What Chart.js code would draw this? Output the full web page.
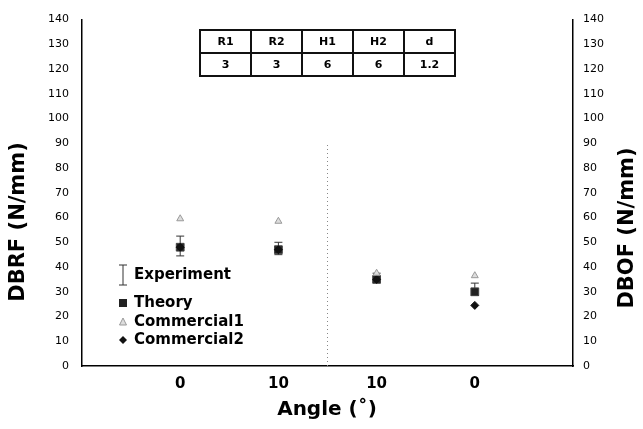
<!DOCTYPE html>
<html>
<head>
<meta charset="utf-8">
<script src="https://cdn.jsdelivr.net/npm/chart.js@4/dist/chart.umd.min.js"></script>
<style>
  body { margin: 0; background: #fff; }
  #wrap { position: relative; width: 643px; height: 429px; }
  #params {
    position: absolute; left: 199px; top: 29px;
    border-collapse: collapse;
    font-family: "DejaVu Sans", Verdana, sans-serif;
    font-weight: bold; font-size: 11px; color: #000;
  }
  #params td {
    border: 2px solid #111; width: 49px; height: 21px;
    text-align: center; padding: 0;
  }
</style>
</head>
<body>
<div id="wrap">
  <canvas id="chart" width="643" height="429"></canvas>
  <table id="params">
    <tr><td>R1</td><td>R2</td><td>H1</td><td>H2</td><td>d</td></tr>
    <tr><td>3</td><td>3</td><td>6</td><td>6</td><td>1.2</td></tr>
  </table>
</div>
<script>
// x-axis categories (angle in degrees)
const angleLabels = ['0', '10', '10', '0'];

// measured / predicted values (N/mm)
const experiment = [48.5, 47.5, 36, 31];
const experimentErr = [4, 2.5, 1.5, 2.5];
const theory = [48, 47, 35, 30];
const commercial1 = [59.5, 58.5, 37.5, 36.5];
const commercial2 = [48, 47, 35, 24.5];

// dotted separator between DBRF and DBOF halves
const dividerX = 2.5;
const dividerTop = 90;

const toPoints = (vals) => vals.map((v, i) => ({ x: i + 1, y: v }));
const FONT = '"DejaVu Sans", Verdana, sans-serif';

// error bars for the experiment series
const errorBars = {
    id: 'errorBars',
    beforeDatasetsDraw(chart) {
        const { ctx, scales: { x, y } } = chart;
        ctx.save();
        ctx.strokeStyle = '#333';
        ctx.lineWidth = 1;
        experiment.forEach((v, i) => {
            const px = x.getPixelForValue(i + 1);
            const top = y.getPixelForValue(v + experimentErr[i]);
            const bot = y.getPixelForValue(v - experimentErr[i]);
            ctx.beginPath();
            ctx.moveTo(px, top); ctx.lineTo(px, bot);
            ctx.moveTo(px - 4, top); ctx.lineTo(px + 4, top);
            ctx.moveTo(px - 4, bot); ctx.lineTo(px + 4, bot);
            ctx.stroke();
        });
        ctx.restore();
    }
};

// axis titles + legend drawn inside the plot
const extras = {
    id: 'extras',
    afterDraw(chart) {
        const ctx = chart.ctx;
        ctx.save();
        ctx.fillStyle = '#000';
        ctx.font = 'bold 21px ' + FONT;
        ctx.textAlign = 'center';
        ctx.textBaseline = 'middle';

        ctx.save();
        ctx.translate(19, 222); ctx.rotate(-Math.PI / 2);
        ctx.fillText('DBRF (N/mm)', 0, 0);
        ctx.restore();

        ctx.save();
        ctx.translate(628, 228); ctx.rotate(-Math.PI / 2);
        ctx.fillText('DBOF (N/mm)', 0, 0);
        ctx.restore();

        ctx.font = 'bold 20px ' + FONT;
        ctx.fillText('Angle (\u02da)', 327, 410);

        // legend
        const lx = 123, tx = 134;
        ctx.font = 'bold 15px ' + FONT;
        ctx.textAlign = 'left';
        ctx.fillText('Experiment', tx, 275);
        ctx.fillText('Theory', tx, 303);
        ctx.fillText('Commercial1', tx, 322);
        ctx.fillText('Commercial2', tx, 340);

        ctx.strokeStyle = '#333'; ctx.lineWidth = 1;
        ctx.beginPath();
        ctx.moveTo(lx, 265); ctx.lineTo(lx, 285);
        ctx.moveTo(lx - 4, 265); ctx.lineTo(lx + 4, 265);
        ctx.moveTo(lx - 4, 285); ctx.lineTo(lx + 4, 285);
        ctx.stroke();

        ctx.fillStyle = '#222';
        ctx.fillRect(lx - 4, 299, 8, 8);

        ctx.fillStyle = '#ddd'; ctx.strokeStyle = '#999';
        ctx.beginPath();
        ctx.moveTo(lx, 318); ctx.lineTo(lx + 3.5, 325); ctx.lineTo(lx - 3.5, 325);
        ctx.closePath(); ctx.fill(); ctx.stroke();

        ctx.fillStyle = '#111';
        ctx.beginPath();
        ctx.moveTo(lx, 336); ctx.lineTo(lx + 4, 340); ctx.lineTo(lx, 344); ctx.lineTo(lx - 4, 340);
        ctx.closePath(); ctx.fill();
        ctx.restore();
    }
};

const yTicks = { stepSize: 10, color: '#000', font: { family: FONT, size: 11 } };

new Chart(document.getElementById('chart'), {
    type: 'scatter',
    data: {
        datasets: [
            {
                type: 'line', label: 'divider',
                data: [{ x: dividerX, y: 0 }, { x: dividerX, y: dividerTop }],
                borderColor: '#888', borderWidth: 1, borderDash: [1, 3],
                pointRadius: 0, fill: false
            },
            {
                label: 'Commercial1', data: toPoints(commercial1),
                pointStyle: 'triangle', pointRadius: 4,
                backgroundColor: '#ddd', borderColor: '#999', borderWidth: 1
            },
            {
                label: 'Commercial2', data: toPoints(commercial2),
                pointStyle: 'rectRot', pointRadius: 4,
                backgroundColor: '#111', borderColor: '#111', borderWidth: 1
            },
            {
                label: 'Theory', data: toPoints(theory),
                pointStyle: 'rect', pointRadius: 5.5,
                backgroundColor: '#222', borderColor: '#444', borderWidth: 1
            }
        ]
    },
    options: {
        responsive: false,
        animation: false,
        layout: { padding: { top: 11, left: 0, right: 0, bottom: 0 } },
        plugins: { legend: { display: false }, tooltip: { enabled: false } },
        scales: {
            x: {
                type: 'linear', min: 0, max: 5,
                grid: { display: false, drawTicks: false },
                border: { display: true, color: '#000', width: 1.5 },
                afterBuildTicks: (s) => { s.ticks = angleLabels.map((_, i) => ({ value: i + 1 })); },
                afterFit: (s) => { s.height = 63; },
                ticks: {
                    autoSkip: false, maxRotation: 0, padding: 9, color: '#000',
                    font: { family: FONT, size: 15, weight: 'bold' },
                    callback: (v) => angleLabels[v - 1] ?? ''
                }
            },
            y: {
                position: 'left', min: 0, max: 140,
                grid: { display: false, drawTicks: false },
                border: { display: true, color: '#000', width: 1.5 },
                afterFit: (s) => { s.width = 82; },
                ticks: { ...yTicks, padding: 13 }
            },
            y1: {
                position: 'right', min: 0, max: 140, display: true,
                grid: { display: false, drawTicks: false },
                border: { display: true, color: '#000', width: 1.5 },
                afterFit: (s) => { s.width = 70; },
                ticks: { ...yTicks, padding: 10 }
            }
        }
    },
    plugins: [errorBars, extras]
});
</script>
</body>
</html>
